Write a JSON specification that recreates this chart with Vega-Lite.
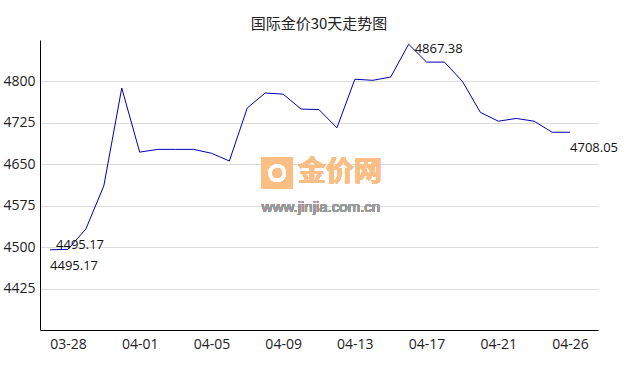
{
  "$schema": "https://vega.github.io/schema/vega-lite/v6.json",
  "width": 558,
  "height": 290,
  "autosize": "none",
  "padding": {"left": 40, "top": 40, "right": 40, "bottom": 40},
  "background": "white",
  "title": {"text": "国际金价30天走势图", "anchor": "middle", "fontSize": 15, "font": "Noto Sans CJK SC", "fontWeight": "normal", "color": "#222", "offset": 8},
  "config": {"view": {"stroke": null}, "font": "Open Sans"},
  "data": {"values": [
    {"date": "03-27", "price": 4495.17},
    {"date": "03-28", "price": 4496},
    {"date": "03-29", "price": 4533},
    {"date": "03-30", "price": 4611},
    {"date": "03-31", "price": 4788},
    {"date": "04-01", "price": 4672},
    {"date": "04-02", "price": 4677},
    {"date": "04-03", "price": 4677},
    {"date": "04-04", "price": 4677},
    {"date": "04-05", "price": 4670},
    {"date": "04-06", "price": 4656},
    {"date": "04-07", "price": 4752},
    {"date": "04-08", "price": 4779},
    {"date": "04-09", "price": 4777},
    {"date": "04-10", "price": 4750},
    {"date": "04-11", "price": 4749},
    {"date": "04-12", "price": 4716},
    {"date": "04-13", "price": 4804},
    {"date": "04-14", "price": 4802},
    {"date": "04-15", "price": 4808},
    {"date": "04-16", "price": 4867.38},
    {"date": "04-17", "price": 4835},
    {"date": "04-18", "price": 4835},
    {"date": "04-19", "price": 4800},
    {"date": "04-20", "price": 4744},
    {"date": "04-21", "price": 4728},
    {"date": "04-22", "price": 4733},
    {"date": "04-23", "price": 4728},
    {"date": "04-24", "price": 4708},
    {"date": "04-26", "price": 4708.05}
  ]},
  "encoding": {
    "x": {"field": "date", "type": "ordinal", "sort": null,
      "scale": {"type": "point", "padding": 0.56,
        "domain": ["03-27","03-28","03-29","03-30","03-31","04-01","04-02","04-03","04-04","04-05","04-06","04-07","04-08","04-09","04-10","04-11","04-12","04-13","04-14","04-15","04-16","04-17","04-18","04-19","04-20","04-21","04-22","04-23","04-24","04-26",""]},
      "axis": {"title": null, "values": ["03-28", "04-01", "04-05", "04-09", "04-13", "04-17", "04-21", "04-26"],
        "labelAngle": 0, "ticks": false, "domainColor": "#000", "labelFontSize": 14, "labelColor": "#222", "labelPadding": 7, "grid": false}},
    "y": {"field": "price", "type": "quantitative",
      "scale": {"domain": [4350, 4875], "nice": false, "zero": false},
      "axis": {"title": null, "values": [4425, 4500, 4575, 4650, 4725, 4800], "format": "d", "ticks": false, "domainColor": "#000",
        "labelFontSize": 14, "labelColor": "#222", "labelPadding": 5, "grid": true, "gridColor": "#dcdcdc"}}
  },
  "layer": [
    {"mark": {"type": "point", "shape": "square", "filled": true, "size": 1000, "color": "#fbbf85", "opacity": 1},
     "encoding": {"x": {"datum": "04-09"}, "y": {"datum": 4634}, "xOffset": {"value": -6}}},
    {"mark": {"type": "point", "shape": "circle", "filled": false, "size": 220, "stroke": "#ffffff", "strokeWidth": 3, "opacity": 1},
     "encoding": {"x": {"datum": "04-09"}, "y": {"datum": 4634}, "xOffset": {"value": -6}}},
    {"mark": {"type": "text", "text": "金价网", "fontSize": 28, "font": "Noto Sans CJK SC", "fontWeight": "bold", "color": "#fbbf85", "dx": 3, "align": "center", "baseline": "middle"},
     "encoding": {"x": {"datum": "04-12"}, "y": {"datum": 4634}}},
    {"mark": {"type": "text", "text": "www.jinjia.com.cn", "fontSize": 15, "font": "Liberation Sans", "color": "#9a9a9a", "dx": 2, "align": "center", "baseline": "middle"},
     "encoding": {"x": {"datum": "04-11"}, "y": {"datum": 4573}}},
    {"mark": {"type": "line", "color": "#0000b4", "strokeWidth": 1}},
    {"transform": [{"filter": "datum.date == '03-27'"}],
     "mark": {"type": "text", "align": "left", "baseline": "middle", "dx": 6, "dy": -5, "fontSize": 13, "color": "#111"},
     "encoding": {"text": {"field": "price", "format": ".2f"}}},
    {"transform": [{"filter": "datum.date == '03-27'"}],
     "mark": {"type": "text", "align": "left", "baseline": "middle", "dx": 0, "dy": 16, "fontSize": 13, "color": "#111"},
     "encoding": {"text": {"field": "price", "format": ".2f"}}},
    {"transform": [{"filter": "datum.date == '04-16'"}],
     "mark": {"type": "text", "align": "left", "baseline": "middle", "dx": 6, "dy": 5, "fontSize": 13, "color": "#111"},
     "encoding": {"text": {"field": "price", "format": ".2f"}}},
    {"transform": [{"filter": "datum.date == '04-26'"}],
     "mark": {"type": "text", "align": "left", "baseline": "middle", "dx": 0, "dy": 16, "fontSize": 13, "color": "#111"},
     "encoding": {"text": {"field": "price", "format": ".2f"}}}
  ]
}
